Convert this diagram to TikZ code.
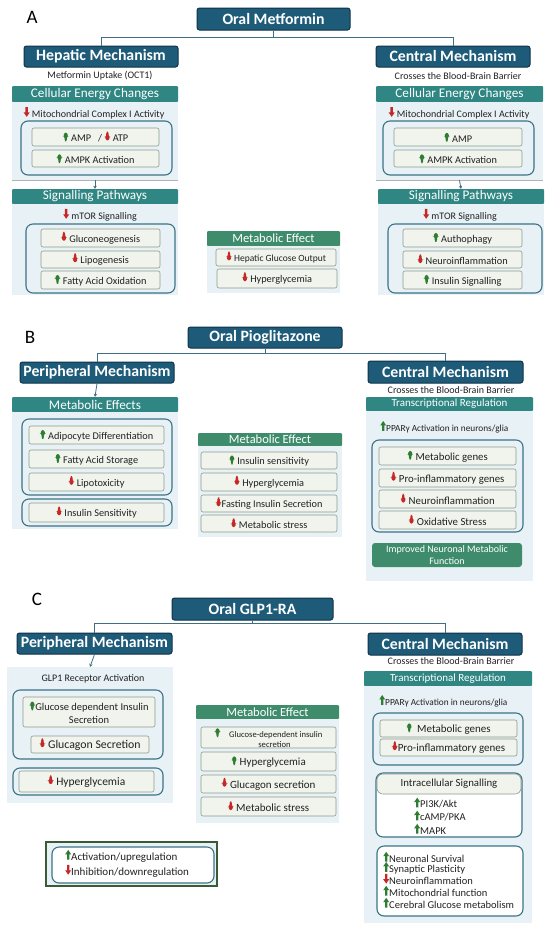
\documentclass[tikz,border=0pt]{standalone}
\usepackage{fontspec}
\setmainfont{Carlito}
\usetikzlibrary{arrows.meta}
\definecolor{mech}{HTML}{1D5B79}
\definecolor{mechb}{HTML}{0F3347}
\definecolor{teal1}{HTML}{2F8683}
\definecolor{greenh}{HTML}{3F8C6C}
\definecolor{panel}{HTML}{E8F1F5}
\definecolor{ibox}{HTML}{F0F4EC}
\definecolor{iboxb}{HTML}{8E9B8E}
\definecolor{outlc}{HTML}{3B7386}
\definecolor{upc}{HTML}{2E7D32}
\definecolor{dnc}{HTML}{C62828}
\definecolor{conncol}{HTML}{3F6F84}
\definecolor{legb}{HTML}{3B5B34}
\definecolor{txt}{HTML}{222222}
\newcommand\upa{\tikz[baseline=-0.5pt,x=1pt,y=1pt]\fill[upc] (-1.2,0)--(-1.2,5.4)--(-3,5.4)--(0,9.8)--(3,5.4)--(1.2,5.4)--(1.2,0)--cycle;}
\newcommand\dna{\tikz[baseline=-0.5pt,x=1pt,y=1pt]\fill[dnc] (-1.2,9.8)--(-1.2,4.4)--(-3,4.4)--(0,0)--(3,4.4)--(1.2,4.4)--(1.2,9.8)--cycle;}
\newcommand\mybox[8][]{%
  \pgfmathsetmacro\bcx{(#4+#6)/2}%
  \pgfmathsetmacro\bcy{(#5+#7)/2}%
  \pgfmathsetmacro\bww{#6-#4}%
  \pgfmathsetmacro\bhh{#7-#5}%
  \node[#2,minimum width=\bww pt,minimum height=\bhh pt,#1] (#3) at (\bcx,\bcy) {#8};}
\begin{document}
\begin{tikzpicture}[x=1pt,y=-1pt,
 mechbox/.style={fill=mech,draw=mechb,line width=1pt,rounded corners=2.5pt,text=white,font=\fontsize{15.8}{17}\selectfont\bfseries,inner sep=0pt},
 hdr/.style={fill=teal1,text=white,font=\fontsize{13.2}{14}\selectfont,inner sep=0pt,rounded corners=1pt},
 hdrs/.style={hdr,font=\fontsize{11}{12}\selectfont},
 hdrg/.style={hdr,fill=greenh,font=\fontsize{12.5}{14}\selectfont},
 pan/.style={fill=panel,inner sep=0pt},
 outl/.style={draw=outlc,line width=1.1pt,rounded corners=7pt,inner sep=0pt},
 ib/.style={fill=ibox,draw=iboxb,line width=0.6pt,rounded corners=2pt,inner sep=0pt,font=\fontsize{10.3}{11.5}\selectfont,text=txt,align=center},
 lbl/.style={font=\fontsize{10}{11}\selectfont,text=txt,inner sep=0pt},
 lbll/.style={lbl,anchor=west},
 lst/.style={lbll,font=\fontsize{10.5}{11}\selectfont},
 secl/.style={font=\fontsize{19}{19}\selectfont,text=black,inner sep=0pt},
 conn/.style={draw=conncol,line width=0.9pt},
 sarr/.style={draw=conncol,line width=0.8pt,-{Stealth[length=3pt,width=3.5pt]}},
 sep/.style={draw=gray!60,line width=0.6pt},
]
\useasboundingbox (0,0) rectangle (550,932);
\fill[white] (0,0) rectangle (550,932);

%================ A =================
\node[secl] (labA) at (32,17) {A};
\mybox{mechbox}{oralA}{197}{8}{350}{30}{Oral Metformin}
\mybox{mechbox}{hepA}{24}{46}{178}{67}{Hepatic Mechanism}
\mybox{mechbox}{cenA}{376}{46}{530}{67}{Central Mechanism}
\draw[conn] (oralA.south) -- ++(0,7) coordinate (jA);
\draw[conn] (jA) -| (hepA.north);
\draw[conn] (jA) -| (cenA.north);
\node[lbl] (uptA) at (100,76) {Metformin Uptake (OCT1)};
\node[lbl] (bbbA) at (458,76) {Crosses the Blood-Brain Barrier};

% left
\mybox{hdr}{hA1}{12}{86}{178}{102}{Cellular Energy Changes}
\mybox{pan}{pA1}{12}{102}{178}{180}{}
\mybox{outl}{oA1}{21}{121}{172}{175}{}
\node[lbl] (mitoA) at (94,113) {\dna\ Mitochondrial Complex I Activity};
\mybox{ib}{ampA}{32}{128}{159}{146}{\upa\ AMP~~~/ \dna\ ATP}
\mybox{ib}{ampkA}{32}{150}{159}{167}{\upa\ AMPK Activation}
\draw[sep] (pA1.south west) -- (pA1.south east);
\mybox{hdr}{hA2}{12}{189}{178}{204}{Signalling Pathways}
\mybox{pan}{pA2}{12}{204}{178}{295}{}
\draw[sarr] (pA1.south) -- (hA2.north);
\mybox{outl}{oA2}{26}{224}{175}{293}{}
\node[lbl] (mtorA) at (100,215) {\dna\ mTOR Signalling};
\mybox{ib}{gluA}{41}{229}{160}{247}{\dna\ Gluconeogenesis}
\mybox{ib}{lipA}{41}{251}{160}{268}{\dna\ Lipogenesis}
\mybox{ib}{faoA}{41}{271}{160}{289}{\upa\ Fatty Acid Oxidation}

% middle
\mybox{hdrg}{hAm}{207}{231}{340}{246}{Metabolic Effect}
\mybox{pan}{pAm}{207}{246}{340}{293}{}
\mybox[font=\fontsize{9.5}{11}\selectfont]{ib}{hgoA}{216}{249}{336}{266}{\dna\ Hepatic Glucose Output}
\mybox{ib}{hypA}{217}{269}{337}{288}{\dna\ Hyperglycemia}

% right
\mybox{hdr}{hA3}{376}{86}{543}{102}{Cellular Energy Changes}
\mybox{pan}{pA3}{376}{102}{543}{180}{}
\mybox{outl}{oA3}{383}{121}{534}{175}{}
\node[lbl] (mitoA2) at (459,113) {\dna\ Mitochondrial Complex I Activity};
\mybox{ib}{ampA2}{394}{128}{522}{146}{\upa\ AMP}
\mybox{ib}{ampkA2}{394}{150}{522}{167}{\upa\ AMPK Activation}
\draw[sep] (pA3.south west) -- (pA3.south east);
\mybox{hdr}{hA4}{378}{189}{544}{204}{Signalling Pathways}
\mybox{pan}{pA4}{378}{204}{544}{295}{}
\draw[sarr] (pA3.south) -- (hA4.north);
\mybox{outl}{oA4}{388}{224}{542}{293}{}
\node[lbl] (mtorA2) at (460,215) {\dna\ mTOR Signalling};
\mybox{ib}{autA}{403}{229}{522}{247}{\upa\ Authophagy}
\mybox{ib}{neuA}{403}{251}{522}{268}{\dna\ Neuroinflammation}
\mybox{ib}{insA}{403}{271}{522}{289}{\upa\ Insulin Signalling}

%================ B =================
\node[secl] (labB) at (30,337) {B};
\mybox{mechbox}{oralB}{188}{327}{342}{348}{Oral Pioglitazone}
\mybox{mechbox}{perB}{20}{362}{174}{383}{Peripheral Mechanism}
\mybox{mechbox}{cenB}{368}{361}{523}{383}{Central Mechanism}
\draw[conn] (oralB.south) -- ++(0,5) coordinate (jB);
\draw[conn] (jB) -| (perB.north);
\draw[conn] (jB) -| (cenB.north);

% left
\mybox{hdr}{hB1}{12}{397}{178}{412}{Metabolic Effects}
\draw[sarr] (perB.south) -- (hB1.north);
\mybox{pan}{pB1}{12}{412}{178}{529}{}
\mybox{outl}{oB1}{22}{419}{172}{495}{}
\mybox{ib}{adiB}{29}{426}{164}{444}{\upa\ Adipocyte Differentiation}
\mybox{ib}{fasB}{29}{450}{164}{468}{\upa\ Fatty Acid Storage}
\mybox{ib}{lptB}{29}{473}{164}{491}{\dna\ Lipotoxicity}
\mybox{outl}{oB2}{22}{499}{172}{526}{}
\mybox{ib}{insB}{29}{503}{164}{522}{\dna\ Insulin Sensitivity}

% middle
\mybox{hdrg}{hBm}{198}{433}{342}{446}{Metabolic Effect}
\mybox{pan}{pBm}{198}{446}{342}{537}{}
\mybox{ib}{isB}{201}{452}{337}{469}{\upa\ Insulin sensitivity}
\mybox{ib}{hyB}{201}{473}{337}{491}{\dna\ Hyperglycemia}
\mybox{ib}{fisB}{201}{495}{337}{512}{\dna Fasting Insulin Secretion}
\mybox{ib}{msB}{201}{515}{337}{532}{\dna\ Metabolic stress}

% right
\node[lbl] (bbbB) at (451,390) {Crosses the Blood-Brain Barrier};
\mybox{hdrs}{hB3}{366}{397}{533}{411}{Transcriptional Regulation}
\mybox{pan}{pB3}{366}{411}{533}{581}{}
\node[lbll,font=\fontsize{9.3}{10}\selectfont] (ppB) at (380,427) {\upa PPARγ Activation in neurons/glia};
\mybox{outl}{oB3}{372}{440}{523}{532}{}
\mybox[font=\fontsize{10.8}{12}\selectfont]{ib}{mgB}{379}{447}{516}{465}{\upa\ Metabolic genes}
\mybox[font=\fontsize{10.8}{12}\selectfont]{ib}{pigB}{379}{469}{516}{487}{\dna\ Pro-inflammatory genes}
\mybox[font=\fontsize{10.8}{12}\selectfont]{ib}{niB}{379}{490}{516}{508}{\dna\ Neuroinflammation}
\mybox[font=\fontsize{10.8}{12}\selectfont]{ib}{osB}{379}{511}{516}{529}{\dna\ Oxidative Stress}
\mybox[fill=greenh,draw=none,text=white,font=\fontsize{10}{11.5}\selectfont,rounded corners=3pt]{ib}{impB}{372}{543}{522}{567}{Improved Neuronal Metabolic\\Function}

%================ C =================
\node[secl] (labC) at (37,599) {C};
\mybox{mechbox}{oralC}{172}{598}{333}{620}{Oral GLP1-RA}
\mybox{mechbox}{perC}{17}{633}{172}{654}{Peripheral Mechanism}
\mybox{mechbox}{cenC}{368}{633}{522}{655}{Central Mechanism}
\draw[conn] (oralC.south) -- ++(0,3) coordinate (jC);
\draw[conn] (jC) -| (perC.north);
\draw[conn] (jC) -| (cenC.north);

% left
\mybox{pan}{pC1}{7}{667}{173}{803}{}
\draw[sarr] (perC.south) -- (pC1.north);
\node[lbl] (glpC) at (93,679) {GLP1 Receptor Activation};
\mybox{outl}{oC1}{13}{690}{163}{759}{}
\mybox[font=\fontsize{10.5}{12.5}\selectfont]{ib}{gdiC}{23}{697}{155}{727}{\upa Glucose dependent Insulin\\Secretion}
\mybox[font=\fontsize{11.8}{13}\selectfont]{ib}{gsC}{31}{736}{149}{753}{\dna\ Glucagon Secretion}
\mybox{outl}{oC2}{13}{768}{163}{795}{}
\mybox[font=\fontsize{11.5}{13}\selectfont]{ib}{hyC}{19}{771}{154}{792}{\dna\ Hyperglycemia}

% middle
\mybox{hdrg}{hCm}{196}{705}{339}{719}{Metabolic Effect}
\mybox{pan}{pCm}{196}{719}{339}{823}{}
\mybox[font=\fontsize{8.6}{10}\selectfont]{ib}{gdC}{201}{727}{336}{748}{\upa\quad Glucose-dependent insulin\\\hspace*{12pt}secretion}
\mybox[font=\fontsize{11}{12}\selectfont]{ib}{hy2C}{201}{752}{336}{771}{\upa\ Hyperglycemia}
\mybox[font=\fontsize{11}{12}\selectfont]{ib}{gs2C}{201}{775}{336}{793}{\dna\ Glucagon secretion}
\mybox[font=\fontsize{11}{12}\selectfont]{ib}{msC}{201}{797}{336}{816}{\dna\ Metabolic stress}

% right
\node[lbl] (bbbC) at (451,661) {Crosses the Blood-Brain Barrier};
\mybox{hdrs}{hC3}{364}{671}{532}{686}{Transcriptional Regulation}
\mybox{pan}{pC3}{364}{686}{532}{923}{}
\node[lbll,font=\fontsize{9.3}{10}\selectfont] (ppC) at (379,701) {\upa PPARγ Activation in neurons/glia};
\mybox{outl}{oC3}{373}{713}{523}{765}{}
\mybox[font=\fontsize{11}{12}\selectfont]{ib}{mgC}{380}{720}{517}{737}{\upa\ \ Metabolic genes}
\mybox[font=\fontsize{11}{12}\selectfont]{ib}{pigC}{380}{739}{517}{756}{\dna Pro-inflammatory genes}
\mybox[fill=white]{outl}{oC4}{376}{773}{522}{837}{}
\mybox[rounded corners=6pt,font=\fontsize{10.8}{12}\selectfont]{ib}{isC}{377}{774}{521}{794}{Intracellular Signalling}
\node[lst] (pi3C) at (414,803) {\upa PI3K/Akt};
\node[lst] (campC) at (414,816) {\upa cAMP/PKA};
\node[lst] (mapkC) at (414,829) {\upa MAPK};
\mybox[fill=white]{outl}{oC5}{377}{846}{523}{916}{}
\node[lst] (nsC) at (383,857) {\upa Neuronal Survival};
\node[lst] (spC) at (383,868) {\upa Synaptic Plasticity};
\node[lst] (niC) at (383,879) {\dna Neuroinflammation};
\node[lst] (mfC) at (383,891) {\upa Mitochondrial function};
\node[lst] (cgC) at (383,903) {\upa Cerebral Glucose metabolism};

%================ Legend =================
\mybox[draw=legb,line width=1.8pt]{pan}{legO}{46}{842}{217}{886}{}
\mybox[fill=white]{outl}{legI}{52}{847}{214}{883}{}
\node[lbll,font=\fontsize{11}{12}\selectfont] (legUp) at (65,856) {\upa Activation/upregulation};
\node[lbll,font=\fontsize{11}{12}\selectfont] (legDn) at (65,871) {\dna Inhibition/downregulation};
\end{tikzpicture}
\end{document}
